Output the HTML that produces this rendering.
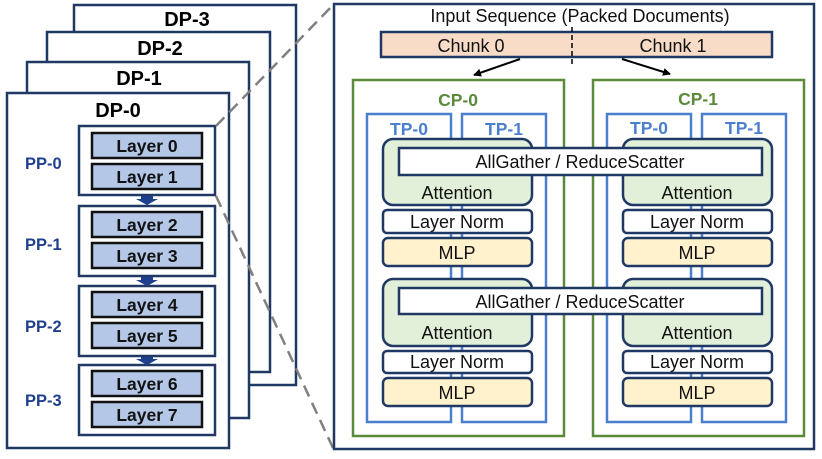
<!DOCTYPE html>
<html><head><meta charset="utf-8"><style>
html,body{margin:0;padding:0;background:#fff;}
svg{display:block;}
text{font-family:"Liberation Sans",sans-serif;}
</style></head><body>
<svg width="822" height="459" viewBox="0 0 822 459" xmlns="http://www.w3.org/2000/svg">
<defs>
<marker id="ah" markerWidth="8" markerHeight="8" refX="7" refY="4" orient="auto" markerUnits="userSpaceOnUse"><path d="M0,0 L8,4 L0,8 z" fill="#000"/></marker>
</defs>
<g stroke="#1f3864" stroke-width="2.5" fill="#fff">
<rect x="74" y="5" width="222" height="380"/>
<rect x="47" y="32" width="223" height="340"/>
<rect x="27" y="62" width="222" height="356"/>
<rect x="7" y="93" width="222" height="355"/>
</g>
<g font-weight="bold" font-size="20" text-anchor="middle" fill="#000">
<text x="187" y="26">DP-3</text>
<text x="160" y="55">DP-2</text>
<text x="139" y="85">DP-1</text>
<text x="118" y="117">DP-0</text>
</g>
<g stroke="#1f3864" stroke-width="2.5" fill="#fff">
<rect x="79" y="126" width="136" height="69"/>
<rect x="79" y="206" width="136" height="70"/>
<rect x="79" y="286" width="136" height="70"/>
<rect x="79" y="365" width="136" height="70"/>
</g>
<g fill="#1f3f8f">
<path d="M141,196 h12 v3 h5 l-11,6 l-11,-6 h5z"/>
<path d="M141,277 h12 v3 h5 l-11,6 l-11,-6 h5z"/>
<path d="M141,357 h12 v2 h5 l-11,6 l-11,-6 h5z"/>
</g>
<g stroke="#111" stroke-width="2.5" fill="#b4c7e7">
<rect x="92" y="133" width="110" height="25"/>
<rect x="92" y="164" width="110" height="25"/>
<rect x="92" y="212" width="110" height="25"/>
<rect x="92" y="243" width="110" height="25"/>
<rect x="92" y="292" width="110" height="25"/>
<rect x="92" y="323" width="110" height="25"/>
<rect x="92" y="371" width="110" height="25"/>
<rect x="92" y="402" width="110" height="25"/>
</g>
<g font-weight="bold" font-size="17.5" text-anchor="middle" fill="#111">
<text x="147" y="152">Layer 0</text>
<text x="147" y="183">Layer 1</text>
<text x="147" y="231">Layer 2</text>
<text x="147" y="262">Layer 3</text>
<text x="147" y="311">Layer 4</text>
<text x="147" y="342">Layer 5</text>
<text x="147" y="390">Layer 6</text>
<text x="147" y="421">Layer 7</text>
</g>
<g font-weight="bold" font-size="16.5" fill="#1f3f8f">
<text x="25" y="169">PP-0</text>
<text x="25" y="250">PP-1</text>
<text x="25" y="332">PP-2</text>
<text x="25" y="406">PP-3</text>
</g>
<g stroke="#808080" stroke-width="2.5" stroke-dasharray="12,7">
<line x1="216" y1="126" x2="333" y2="5"/>
<line x1="216" y1="196" x2="333" y2="448"/>
</g>
<rect x="334" y="4" width="480" height="445" fill="#fff" stroke="#1f3864" stroke-width="2.5"/>
<text x="580" y="22" font-size="18" text-anchor="middle" fill="#111">Input Sequence (Packed Documents)</text>
<rect x="381" y="32" width="391" height="25" fill="#f8dcc8" stroke="#1f3864" stroke-width="2.5"/>
<line x1="572" y1="27" x2="572" y2="64" stroke="#000" stroke-width="1.5" stroke-dasharray="5,3"/>
<text x="471" y="52" font-size="18" text-anchor="middle" fill="#111">Chunk 0</text>
<text x="673" y="52" font-size="18" text-anchor="middle" fill="#111">Chunk 1</text>
<line x1="520" y1="59" x2="474" y2="75" stroke="#000" stroke-width="2" marker-end="url(#ah)"/>
<line x1="622" y1="59" x2="670" y2="74" stroke="#000" stroke-width="2" marker-end="url(#ah)"/>
<g stroke="#5b8a3a" stroke-width="2.5" fill="none">
<rect x="353" y="80" width="211" height="356"/>
<rect x="593" y="80" width="211" height="356"/>
</g>
<g font-weight="bold" font-size="17.5" text-anchor="middle" fill="#5b8a3a">
<text x="458" y="106">CP-0</text>
<text x="698" y="105">CP-1</text>
</g>
<g stroke="#4a7fd0" stroke-width="2.5" fill="none">
<rect x="367" y="114" width="84" height="308"/>
<rect x="462" y="114" width="84" height="308"/>
<rect x="607" y="114" width="84" height="308"/>
<rect x="702" y="114" width="84" height="308"/>
</g>
<g font-weight="bold" font-size="17.5" text-anchor="middle" fill="#4a7fd0">
<text x="409" y="135">TP-0</text>
<text x="504" y="135">TP-1</text>
<text x="649" y="134">TP-0</text>
<text x="744" y="134">TP-1</text>
</g>
<g stroke="#1f3864" stroke-width="2.5">
<rect x="383" y="139" width="149" height="66" rx="10" fill="#e2efd9"/>
<rect x="623" y="139" width="149" height="66" rx="10" fill="#e2efd9"/>
<rect x="383" y="279" width="149" height="67" rx="10" fill="#e2efd9"/>
<rect x="623" y="279" width="149" height="67" rx="10" fill="#e2efd9"/>
<rect x="383" y="210" width="149" height="23" rx="4" fill="#fff"/>
<rect x="623" y="210" width="149" height="23" rx="4" fill="#fff"/>
<rect x="383" y="351" width="149" height="22" rx="4" fill="#fff"/>
<rect x="623" y="351" width="149" height="22" rx="4" fill="#fff"/>
<rect x="383" y="238" width="149" height="28" rx="5" fill="#fff2cc"/>
<rect x="623" y="238" width="149" height="28" rx="5" fill="#fff2cc"/>
<rect x="383" y="378" width="149" height="28" rx="5" fill="#fff2cc"/>
<rect x="623" y="378" width="149" height="28" rx="5" fill="#fff2cc"/>
<rect x="399" y="148" width="363" height="27" fill="#fff"/>
<rect x="399" y="288" width="363" height="26" fill="#fff"/>
</g>
<g font-size="18" text-anchor="middle" fill="#111">
<text x="580" y="168">AllGather / ReduceScatter</text>
<text x="580" y="308">AllGather / ReduceScatter</text>
<text x="457" y="199">Attention</text>
<text x="697" y="199">Attention</text>
<text x="457" y="339">Attention</text>
<text x="697" y="339">Attention</text>
<text x="457" y="228">Layer Norm</text>
<text x="697" y="228">Layer Norm</text>
<text x="457" y="368">Layer Norm</text>
<text x="697" y="368">Layer Norm</text>
<text x="457" y="259">MLP</text>
<text x="697" y="259">MLP</text>
<text x="457" y="399">MLP</text>
<text x="697" y="399">MLP</text>
</g>
</svg>
</body></html>
